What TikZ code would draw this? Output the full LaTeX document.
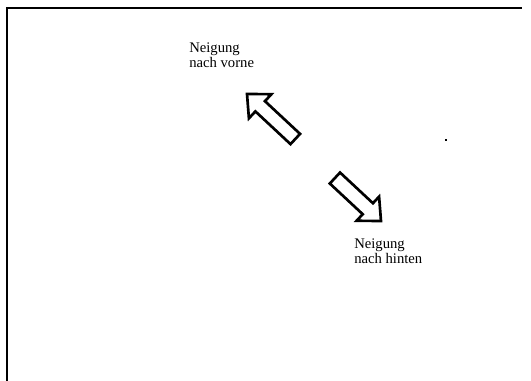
\documentclass[tikz,border=0pt]{standalone}
\usepackage{fontspec}
\setmainfont{Liberation Serif}
\usetikzlibrary{positioning}

\tikzset{
  hollowarrow/.style={line width=2pt, line join=miter, fill=white},
  tiltlabel/.style={anchor=north west, inner sep=0pt, align=left,
    font=\fontsize{11}{11.3}\selectfont}
}

\begin{document}
\begin{tikzpicture}[line cap=butt, x=0.75pt, y=0.75pt]
\useasboundingbox (0,0) rectangle (531,381);
% frame (left and top edge only)
\draw [line width=1.5pt] (7,0) -- (7,372.5) -- (521.5,372.5);
% labels
\node [tiltlabel] (vorne) at (189,338.5) {Neigung\\nach vorne};
\node [tiltlabel] (hinten) at (354,142.7) {Neigung\\nach hinten};
% arrows
\draw [hollowarrow, shift={(247,287)}, rotate=137]
  (0,0) -- (-18,16.5) -- (-18,7) -- (-66,7) -- (-66,-7) -- (-18,-7) -- (-18,-16.5) -- cycle;
\draw [hollowarrow, shift={(381,160)}, rotate=-43]
  (0,0) -- (-18,16.5) -- (-18,7.5) -- (-63,7.5) -- (-63,-7.5) -- (-18,-7.5) -- (-18,-16.5) -- cycle;
% small mark
\fill (444.7,240) rectangle (446.7,242);
\end{tikzpicture}
\end{document}
